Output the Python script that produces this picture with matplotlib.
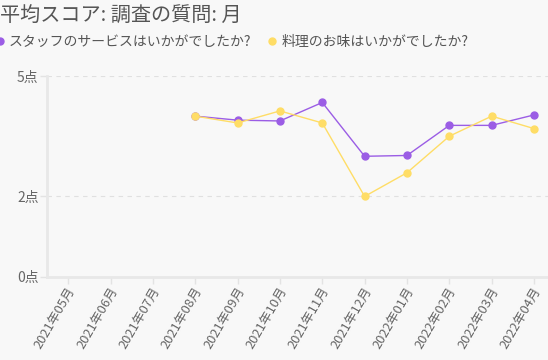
import numpy as np
import matplotlib
matplotlib.use("Agg")
import matplotlib.pyplot as plt
import matplotlib.transforms as mtransforms
from matplotlib.lines import Line2D

plt.rcParams['font.family'] = ['Noto Sans CJK JP', 'DejaVu Sans']

months = ["2021年05月", "2021年06月", "2021年07月", "2021年08月", "2021年09月", "2021年10月",
          "2021年11月", "2021年12月", "2022年01月", "2022年02月", "2022年03月", "2022年04月"]
staff = [np.nan, np.nan, np.nan, 4.00, 3.90, 3.88, 4.34, 3.00, 3.02, 3.77, 3.77, 4.03]
food = [np.nan, np.nan, np.nan, 4.00, 3.83, 4.13, 3.83, 2.00, 2.59, 3.50, 4.00, 3.69]
series_names = ["スタッフのサービスはいかがでしたか?", "料理のお味はいかがでしたか?"]
yticks = [0, 2, 5]
ytick_labels = ["0点", "2点", "5点"]
title = "平均スコア: 調査の質問: 月"

c_staff = "#9B5DE5"
c_food = "#FFDD66"
bg = "#F8F8F8"
txt = "#666666"

fig = plt.figure(figsize=(5.48, 3.6), dpi=100, facecolor=bg)
ax = fig.add_axes([47/548, 1-276.7/360, 1-47/548, (276.7-76)/360], facecolor=bg)

x = np.arange(len(months))
ax.plot(x, staff, color=c_staff, lw=1, marker='o', ms=5, zorder=3)
ax.plot(x, food, color=c_food, lw=1, marker='o', ms=5, zorder=3)

ax.set_xlim(-0.5, 11.33)
ax.set_ylim(0, 5)
ax.set_yticks(yticks)
ax.set_yticklabels(ytick_labels)
ax.set_xticks(x)
ax.set_xticklabels(months, rotation=60, ha='right', va='center', rotation_mode='anchor')
ax.tick_params(axis='both', colors='#E3E3E3', labelcolor=txt, length=5, width=1)
ax.tick_params(axis='y', pad=1, labelsize=10)
ax.tick_params(axis='x', pad=3, labelsize=9.3)
offset = mtransforms.ScaledTranslation(4/100, 0, fig.dpi_scale_trans)
for lab in ax.get_xticklabels():
    lab.set_transform(lab.get_transform() + offset)

for v in yticks[1:]:
    ax.axhline(v, color='#E0E0E0', lw=0.8, ls=(0, (4, 4)), zorder=1)

for s in ['top', 'right']:
    ax.spines[s].set_visible(False)
for s in ['left', 'bottom']:
    ax.spines[s].set_color('#E8E8E8')
    ax.spines[s].set_linewidth(2)

fig.text(0.0, 1 - 22/360, title, fontsize=14.5, color='#555555', ha='left', va='baseline')

handles = [Line2D([], [], color=c_staff, marker='o', ls='', ms=5),
           Line2D([], [], color=c_food, marker='o', ls='', ms=5)]
fig.legend(handles, series_names, loc='center left', bbox_to_anchor=(-0.008, 1 - 42/360),
           ncol=2, frameon=False, fontsize=10, labelcolor='#555555',
           handlelength=0.6, handletextpad=0.35, columnspacing=1.2, borderpad=0, borderaxespad=0)

fig.savefig("out.png", dpi=100, facecolor=bg)
